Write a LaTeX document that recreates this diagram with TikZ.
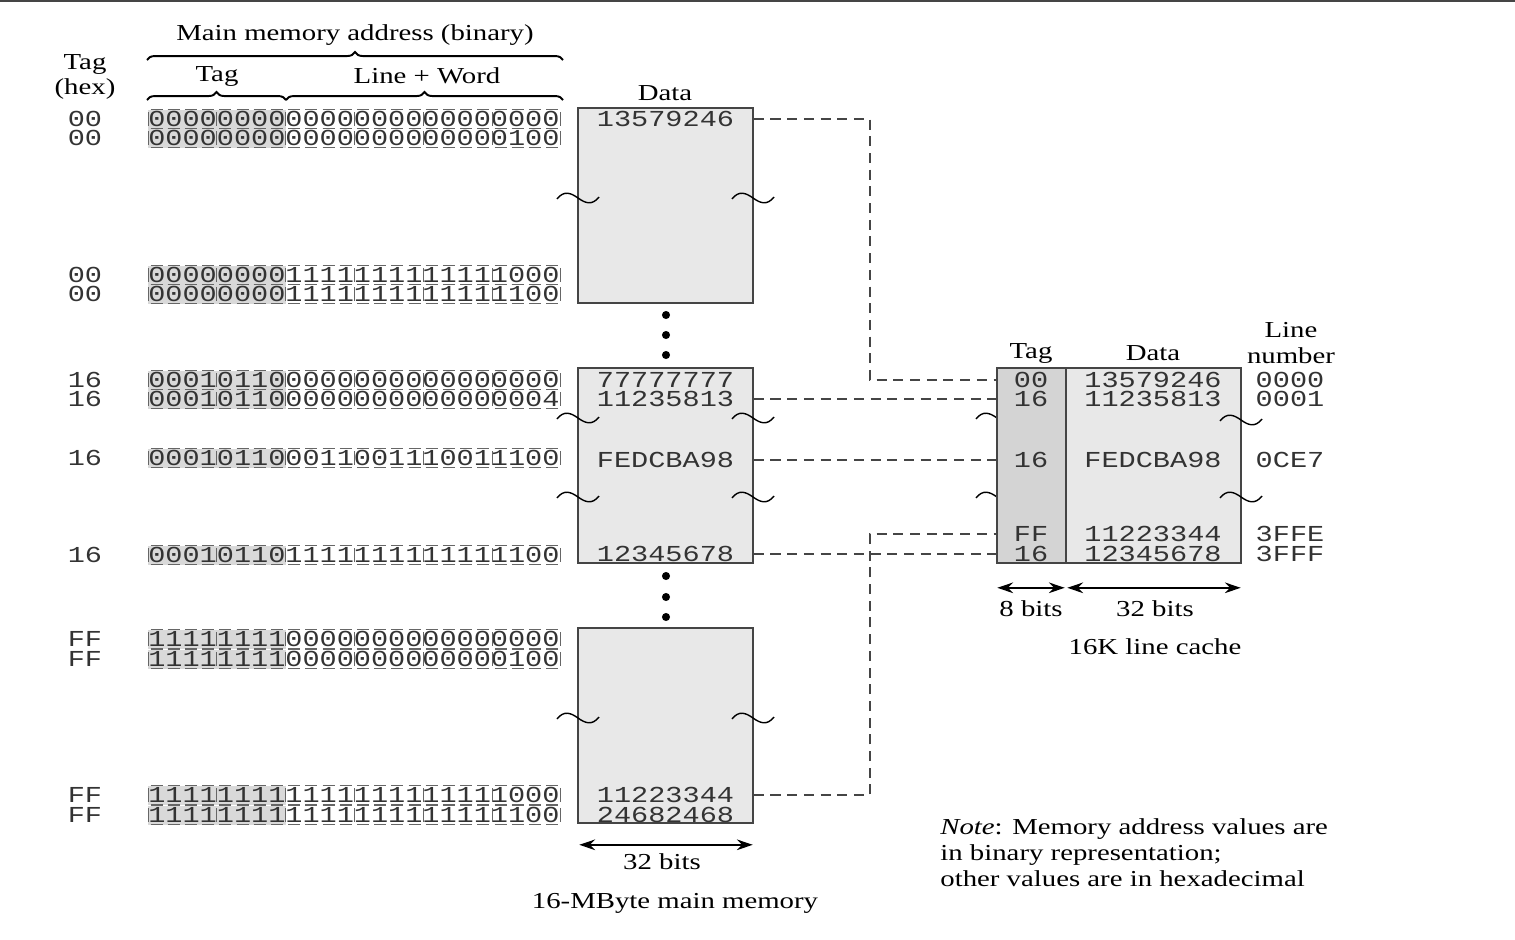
\documentclass[tikz,border=0pt]{standalone}
\usepackage{fontspec}
\setmainfont{Liberation Serif}[FakeStretch=1.26]
\setmonofont{Liberation Mono}[FakeStretch=1.25]
\usetikzlibrary{arrows.meta,decorations.pathreplacing,fit,calc}

\definecolor{boxgray}{HTML}{E8E8E8}
\definecolor{taggray}{HTML}{D4D4D4}
\definecolor{shadegray}{HTML}{D9D9D9}
\definecolor{linegray}{HTML}{454545}

\tikzset{
  lbl/.style={font=\fontsize{13}{14.7}\selectfont, inner sep=0pt, align=center},
  val/.style={font=\ttfamily\fontsize{13}{14.7}\selectfont, inner sep=0pt, text=black!80},
  membox/.style={draw=linegray, line width=0.9pt, fill=boxgray, inner sep=0pt},
  link/.style={draw=linegray, line width=0.75pt, dash pattern=on 5.7pt off 3.8pt},
  celldash/.style={draw=black!60, line width=0.5pt},
  brkline/.style={draw=black, line width=0.8pt},
  dimarrow/.style={{Stealth[length=9pt,width=6pt]}-{Stealth[length=9pt,width=6pt]}, line width=1.3pt},
  addrbrace/.style={decorate, decoration={brace, amplitude=4.5pt}, line width=1.1pt},
}

% one row of the address table: name, y, tag (hex), address bits
\newcommand{\addrrow}[4]{%
  \fill[shadegray] (148,{#2-9.5}) rectangle (285.6,{#2+9.5});
  \node[val] (h#1) at (85,#2) {#3};
  \node[val, anchor=west] (b#1) at (148,#2) {#4};
  \foreach \i in {0,...,23}
    \draw[celldash] ({150.5+17.2*\i},{#2-9.5}) -- +(12,0)
                    ({150.5+17.2*\i},{#2+9.5}) -- +(12,0);
  \foreach \k in {0,...,6}
    \draw[celldash] ({148+68.8*\k},{#2-7}) -- +(0,14);
}

% break mark (tilde) centred at x,y
\newcommand{\brk}[2]{%
  \draw[brkline] ({#1-21},{#2+1}) .. controls ({#1-14},{#2-8}) and ({#1-7},{#2-5}) .. (#1,#2)
    .. controls ({#1+7},{#2+5}) and ({#1+14},{#2+8}) .. ({#1+21},{#2-1});
}

\begin{document}
\begin{tikzpicture}[x=0.02cm,y=-0.02cm]
  \useasboundingbox (0,0) rectangle (1515,940);
  \draw[linegray, line width=1.2pt] (0,1) -- (1515,1);

  % Headings over the address table
  \node[lbl] (tagHex) at (85,77) {Tag\\(hex)};
  \node[lbl] (addrHead) at (355,35) {Main memory address (binary)};
  \draw[addrbrace] (147,60) -- (563,60);
  \node[lbl] (tagHead) at (217,76) {Tag};
  \node[lbl] (lwHead) at (427,76) {Line + Word};
  \draw[addrbrace] (147,100) -- (286,100);
  \draw[addrbrace] (286,100) -- (563,100);

  % Address rows
  \addrrow{1}{119}{00}{000000000000000000000000}
  \addrrow{2}{138}{00}{000000000000000000000100}
  \addrrow{3}{275}{00}{000000001111111111111000}
  \addrrow{4}{294}{00}{000000001111111111111100}
  \addrrow{5}{380}{16}{000101100000000000000000}
  \addrrow{6}{399}{16}{000101100000000000000004}
  \addrrow{7}{458}{16}{000101100011001110011100}
  \addrrow{8}{555}{16}{000101101111111111111100}
  \addrrow{9}{639}{FF}{111111110000000000000000}
  \addrrow{10}{659}{FF}{111111110000000000000100}
  \addrrow{11}{795}{FF}{111111111111111111111000}
  \addrrow{12}{815}{FF}{111111111111111111111100}

  % Main memory blocks
  \node[lbl] (memData) at (665,93) {Data};
  \node[membox, fit={(578,108) (753,303)}] (blk1) {};
  \node[membox, fit={(578,368) (753,563)}] (blk2) {};
  \node[membox, fit={(578,628) (753,823)}] (blk3) {};
  \node[val] (m1) at (665.5,119) {13579246};
  \node[val] (m2) at (665.5,380) {77777777};
  \node[val] (m3) at (665.5,399) {11235813};
  \node[val] (m4) at (665.5,460) {FEDCBA98};
  \node[val] (m5) at (665.5,554) {12345678};
  \node[val] (m6) at (665.5,795) {11223344};
  \node[val] (m7) at (665.5,815) {24682468};
  \brk{578}{198} \brk{753}{198}
  \brk{578}{418} \brk{753}{418}
  \brk{578}{497} \brk{753}{497}
  \brk{578}{718} \brk{753}{718}
  \foreach \y in {315,335,355,576,597,617}
    \fill (666,\y) circle (2.3pt);

  % Memory width
  \draw[dimarrow] ($(blk3.south west)+(2,21)$) -- ($(blk3.south east)+(-1,21)$);
  \node[lbl] (memBits) at (662,862) {32 bits};
  \node[lbl] (memName) at (675,903) {16-MByte main memory};

  % Cache
  \brk{997}{418} \brk{997}{497}
  \node[membox, fill=taggray, fit={(997,368) (1066,563)}] (ctag) {};
  \node[membox, fit={(1066,368) (1241,563)}] (cdata) {};
  \node[lbl] (cTagHead) at (1031,353) {Tag};
  \node[lbl] (cDataHead) at (1153,353) {Data};
  \node[lbl] (cLineHead) at (1291,343) {Line\\number};
  \node[val] (ct1) at (1031,380) {00};
  \node[val] (ct2) at (1031,399) {16};
  \node[val] (ct3) at (1031,460) {16};
  \node[val] (ct4) at (1031,534) {FF};
  \node[val] (ct5) at (1031,554) {16};
  \node[val] (cd1) at (1153,380) {13579246};
  \node[val] (cd2) at (1153,399) {11235813};
  \node[val] (cd3) at (1153,460) {FEDCBA98};
  \node[val] (cd4) at (1153,534) {11223344};
  \node[val] (cd5) at (1153,554) {12345678};
  \node[val] (cl1) at (1290,380) {0000};
  \node[val] (cl2) at (1290,399) {0001};
  \node[val] (cl3) at (1290,460) {0CE7};
  \node[val] (cl4) at (1290,534) {3FFE};
  \node[val] (cl5) at (1290,554) {3FFF};
  \brk{1241}{420} \brk{1241}{497}

  % Cache widths
  \draw[dimarrow] ($(ctag.south west)+(1,24)$) -- ($(ctag.south east)+(-2,24)$);
  \draw[dimarrow] ($(cdata.south west)+(2,24)$) -- ($(cdata.south east)+(-1,24)$);
  \node[lbl] (tagBits) at (1031,609) {8 bits};
  \node[lbl] (dataBits) at (1155,609) {32 bits};
  \node[lbl] (cacheName) at (1155,647) {16K line cache};

  % Mapping of memory words to cache lines
  \coordinate (bend) at (870,0);
  \draw[link] (blk1.east |- m1) -| (bend |- ct1) -- (ctag.west |- ct1);
  \draw[link] (blk2.east |- m3) -- (ctag.west |- ct2);
  \draw[link] (blk2.east |- m4) -- (ctag.west |- ct3);
  \draw[link] (blk2.east |- m5) -- (ctag.west |- ct5);
  \draw[link] (blk3.east |- m6) -| (bend |- ct4) -- (ctag.west |- ct4);

  % Note
  \node[lbl, align=left, anchor=west] (note) at (940,853)
    {\textit{Note}: Memory address values are\\in binary representation;\\other values are in hexadecimal};
\end{tikzpicture}
\end{document}
